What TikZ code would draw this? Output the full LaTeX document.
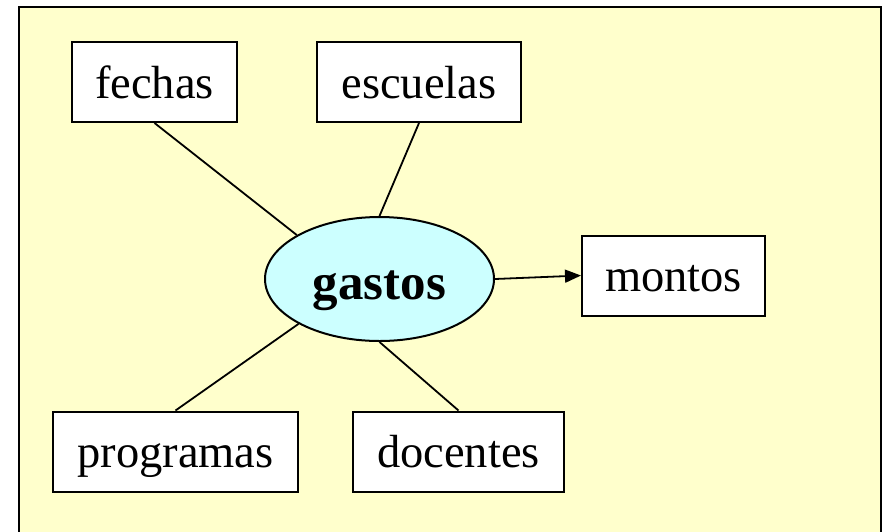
\documentclass[tikz,border=0pt]{standalone}
\usepackage{fontspec}
\setmainfont{Liberation Serif}
\usetikzlibrary{shapes.geometric,arrows.meta}
\definecolor{fondo}{RGB}{255,255,204}
\definecolor{celeste}{RGB}{204,255,255}

\begin{document}
\begin{tikzpicture}[x=1pt,y=-1pt,
  caja/.style={draw,line width=2pt,fill=white,inner sep=0pt,minimum height=80pt,
    text height=36pt,text depth=4pt,font=\fontsize{46.5}{50}\selectfont},
  linea/.style={line width=1.8pt}]
  \useasboundingbox (0,0) rectangle (882,531);
  \draw[fill=fondo,line width=2pt] (19,6.5) rectangle (881,545);
  \node[caja,minimum width=165pt] (fechas) at (154.5,82) {fechas};
  \node[caja,minimum width=204pt] (escuelas) at (419,82) {escuelas};
  \node[caja,minimum width=183pt] (montos) at (673.5,275.5) {montos};
  \node[caja,minimum width=245pt] (programas) at (175.5,451.5) {programas};
  \node[caja,minimum width=211pt] (docentes) at (458.5,451.5) {docentes};
  \node[ellipse,draw,fill=celeste,line width=2pt,inner sep=0pt,minimum width=229pt,
    minimum height=124pt,text height=42pt,text depth=2pt,
    font=\bfseries\fontsize{51}{55}\selectfont] (gastos) at (379.5,279) {gastos};
  \draw[linea] (fechas.south) -- (gastos.152);
  \draw[linea] (escuelas.south) -- (gastos.north);
  \draw[linea,-{Triangle[length=16pt,width=13pt]}] (gastos.east) -- (montos.west);
  \draw[linea] (programas.north) -- (gastos.209);
  \draw[linea] (docentes.north) -- (gastos.south);
\end{tikzpicture}
\end{document}
